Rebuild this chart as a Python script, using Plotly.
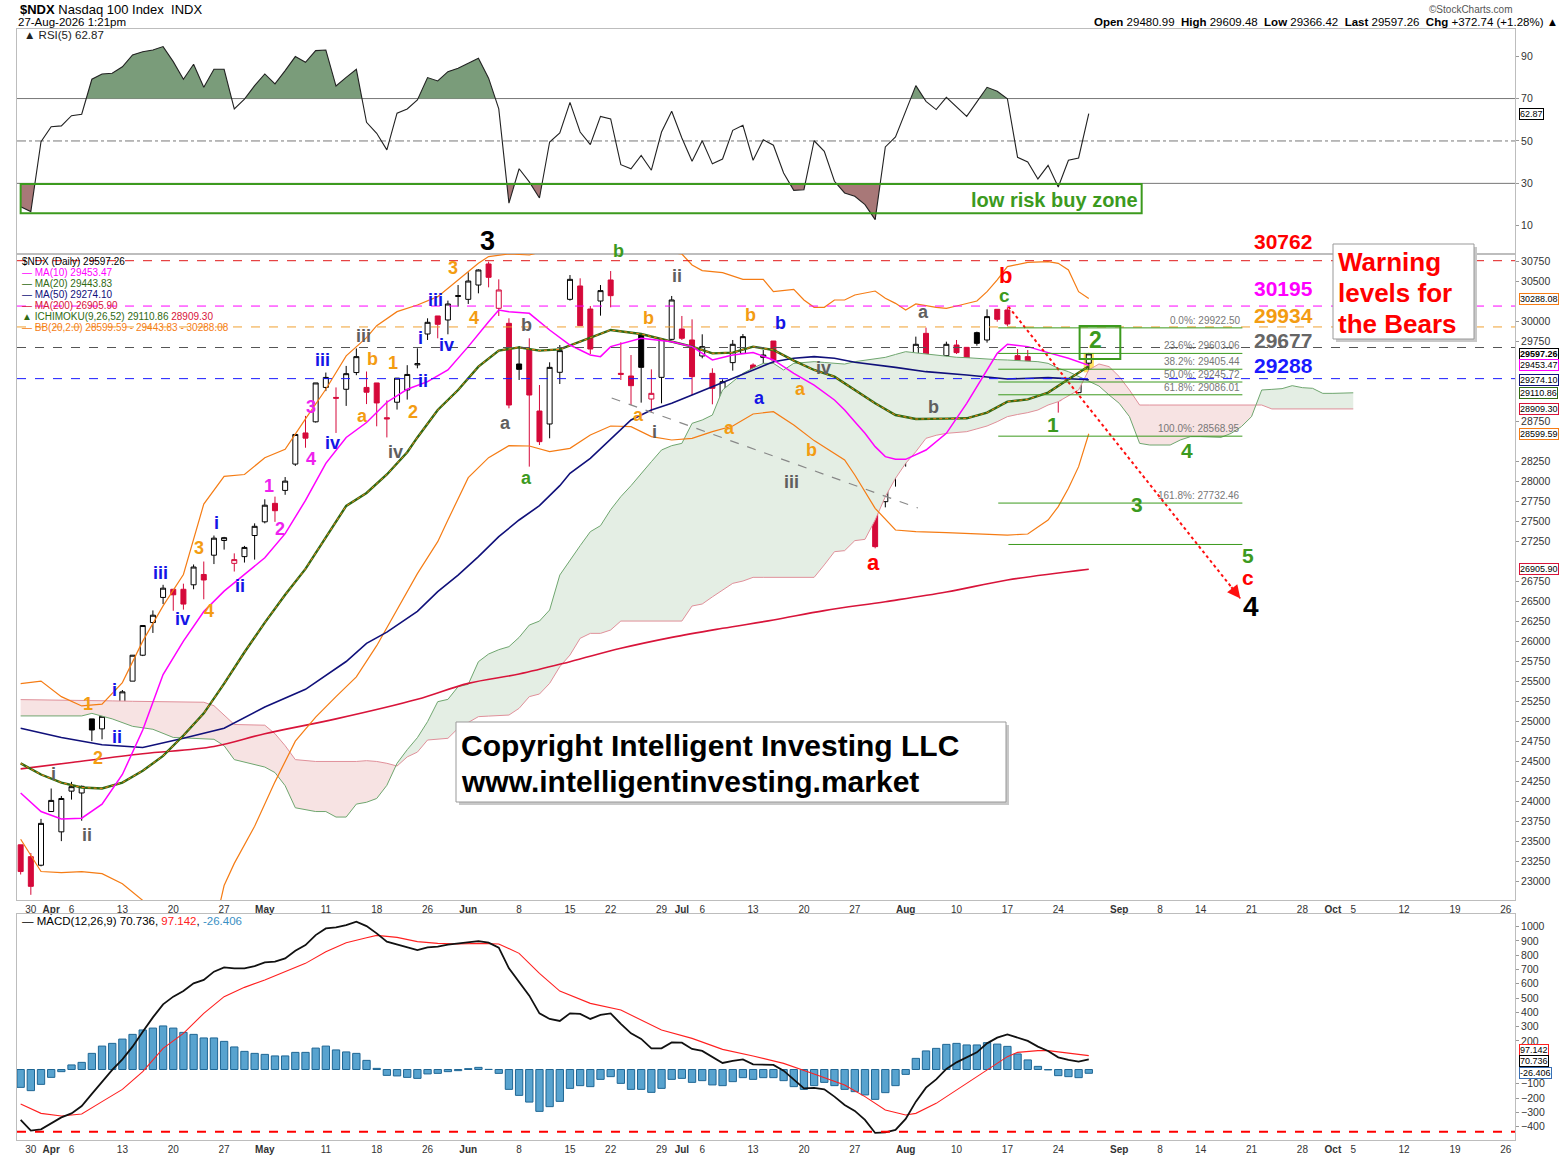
import pandas as pd
import plotly.graph_objects as go

# ---------------- trading calendar (x positions are trading-day numbers) ----------------
HOLIDAYS = ["2026-04-03", "2026-05-25", "2026-06-19", "2026-07-03", "2026-09-07"]
DAYS = [d for d in pd.bdate_range("2026-03-27", "2026-10-30")
        if d.strftime("%Y-%m-%d") not in HOLIDAYS]
POS = {d.strftime("%m-%d"): i for i, d in enumerate(DAYS)}
candle_dates = [d.strftime("%m-%d") for d in DAYS if d <= pd.Timestamp("2026-08-27")]

# ---------------- daily candles, 27-Mar .. 27-Aug ----------------
O = [23461, 23313, 23206, 23877, 23623, 24132, 24109, 25035, 24910, 25165,
     25049, 25507, 25831, 26239, 26553, 26655, 26655, 26711, 26840, 27081,
     27265, 26979, 27063, 27327, 27498, 27729, 27891, 28220, 28609, 28748,
     29178, 29053, 29155, 29364, 29178, 29234, 28799, 28993, 29146, 29460,
     29846, 30071, 30021, 30315, 30279, 30458, 30721, 30167, 29979, 29471,
     29654, 28883, 28721, 29367, 30279, 30446, 30158, 30258, 30521, 29354,
     29321, 29833, 29033, 29304, 29779, 29908, 29771, 29571, 29354, 29021,
     29488, 29604, 29458, 29554, 29758, 29313, 28458, 28867, 29063, 28946,
     28542, 28354, 28404, 27804, 27779, 27750, 28446, 28271, 29104, 29854,
     29221, 29575, 29708, 29679, 29863, 29771, 30154, 30146, 29575, 29563,
     29279, 29354, 29092, 29250, 29113, 29480.99]
H = [23461, 23359, 23785, 24165, 24072, 24248, 24202, 25035, 25067, 25229,
     25396, 25831, 26202, 26391, 26711, 26655, 26725, 26965, 27002, 27327,
     27310, 27104, 27197, 27479, 27780, 27813, 28058, 28590, 28822, 29234,
     29364, 29178, 29447, 29665, 29377, 29234, 29016, 29294, 29456, 29667,
     30042, 30071, 30263, 30458, 30617, 30654, 30750, 30529, 30042, 29696,
     29792, 29208, 29492, 29708, 30583, 30542, 30196, 30458, 30633, 29742,
     29583, 29842, 29404, 29792, 30321, 30071, 30029, 29842, 29417, 29279,
     29771, 29846, 29479, 29646, 29758, 29313, 28854, 29000, 29179, 29167,
     28708, 28446, 28417, 27925, 27946, 28167, 28604, 28833, 29813, 29925,
     29554, 29750, 29771, 29679, 29875, 30154, 30154, 30179, 29658, 29646,
     29367, 29375, 29146, 29321, 29283, 29609.48]
L = [23090, 22836, 23192, 23877, 23507, 24026, 23762, 24757, 24780, 25044,
     24998, 25507, 25820, 26109, 26470, 26387, 26401, 26655, 26530, 26970,
     27151, 26877, 26989, 27026, 27479, 27498, 27836, 28197, 28424, 28739,
     29132, 28609, 28947, 29331, 28970, 28692, 28553, 28901, 29026, 29417,
     29771, 29792, 29842, 30188, 30221, 30354, 30429, 30071, 28917, 29271,
     28188, 28458, 28542, 29221, 30263, 29950, 29596, 30075, 30179, 29271,
     28958, 28988, 28875, 28979, 29771, 29771, 29083, 29542, 28967, 28804,
     29388, 29596, 29179, 29354, 29188, 28875, 28229, 28571, 28875, 28929,
     28271, 28042, 27779, 27446, 27167, 27679, 27938, 28188, 29104, 29446,
     29113, 29438, 29596, 29417, 29700, 29738, 30000, 29946, 29417, 29292,
     29104, 29113, 28863, 29071, 29104, 29366.42]
C = [23127, 22942, 23729, 24016, 24040, 24188, 24192, 24896, 25067, 25104,
     25373, 25831, 26202, 26331, 26669, 26586, 26470, 26933, 26771, 27294,
     27300, 27026, 27178, 27442, 27706, 27637, 28007, 28590, 28544, 29234,
     29303, 29044, 29350, 29563, 29118, 28984, 28785, 29294, 29340, 29475,
     29992, 29967, 30221, 30325, 30508, 30646, 30554, 30396, 28958, 29404,
     29083, 28500, 29429, 29638, 30529, 29950, 29658, 30388, 30325, 29342,
     29200, 29429, 29104, 29779, 30271, 29792, 29313, 29688, 29167, 29250,
     29717, 29813, 29263, 29583, 29521, 29013, 28575, 28592, 29138, 28988,
     28438, 28113, 28029, 27750, 27188, 28104, 28279, 28771, 29717, 29467,
     29363, 29717, 29613, 29521, 29729, 30063, 30029, 29971, 29467, 29417,
     29196, 29313, 29013, 29215, 29224.52, 29597.26]

# ---------------- overlays ----------------
ma10_d = ["03-27", "03-31", "04-02", "04-07", "04-09", "04-13", "04-15", "04-17", "04-21", "04-23",
          "04-27", "04-29", "05-01", "05-05", "05-07", "05-11", "05-13", "05-15", "05-19", "05-21",
          "05-26", "05-28", "06-01", "06-03", "06-04", "06-05", "06-09", "06-11", "06-15", "06-17",
          "06-18", "06-22", "06-25", "06-30", "07-02", "07-07", "07-09", "07-13", "07-15", "07-17",
          "07-21", "07-23", "07-24", "07-27", "07-28", "07-29", "07-30", "07-31", "08-03", "08-05",
          "08-07", "08-11", "08-13", "08-14", "08-17", "08-19", "08-21", "08-25", "08-27"]
ma10 = [24109, 23877, 23785, 23794, 23970, 24340, 24896, 25590, 26007, 26377,
        26632, 26840, 27049, 27350, 27766, 28229, 28553, 28739, 28993, 29155,
        29250, 29396, 29688, 30000, 30146, 30125, 30104, 29896, 29708, 29583,
        29563, 29688, 29792, 29750, 29688, 29521, 29583, 29613, 29521, 29354,
        29208, 29021, 28896, 28750, 28604, 28438, 28313, 28279, 28279, 28396,
        28604, 28979, 29396, 29604, 29717, 29688, 29613, 29542, 29453.47]

ma20_d = ["03-27", "03-31", "04-02", "04-07", "04-09", "04-13", "04-15", "04-17", "04-21", "04-23",
          "04-27", "04-29", "05-01", "05-05", "05-07", "05-11", "05-13", "05-15", "05-19", "05-21",
          "05-22", "05-27", "05-29", "06-02", "06-04", "06-08", "06-10", "06-12", "06-16", "06-22",
          "06-25", "06-30", "07-02", "07-07", "07-09", "07-13", "07-15", "07-17", "07-21", "07-23",
          "07-24", "07-27", "07-29", "07-31", "08-04", "08-07", "08-11", "08-13", "08-17", "08-19",
          "08-21", "08-25", "08-27"]
ma20 = [24479, 24340, 24239, 24178, 24165, 24239, 24387, 24572, 24827, 25104,
        25475, 25868, 26238, 26586, 26910, 27303, 27697, 27859, 28090, 28368,
        28553, 28896, 29146, 29438, 29638, 29679, 29638, 29654, 29750, 29896,
        29846, 29750, 29688, 29604, 29613, 29688, 29646, 29513, 29396, 29313,
        29229, 29146, 28979, 28833, 28783, 28788, 28792, 28863, 29000, 29029,
        29113, 29280, 29443.83]

ma50_d = ["03-27", "04-02", "04-09", "04-15", "04-21", "04-27", "05-01", "05-07", "05-13", "05-15",
          "05-19", "05-22", "05-27", "05-29", "06-02", "06-04", "06-08", "06-10", "06-12", "06-15",
          "06-17", "06-22", "06-24", "06-26", "06-30", "07-02", "07-07", "07-09", "07-13", "07-15",
          "07-17", "07-21", "07-23", "07-27", "07-31", "08-05", "08-11", "08-17", "08-21", "08-27"]
ma50 = [24919, 24803, 24711, 24678, 24794, 24919, 25183, 25405, 25752, 25979,
        26120, 26380, 26625, 26833, 27063, 27313, 27521, 27700, 27950, 28104,
        28292, 28529, 28771, 28896, 28979, 29083, 29188, 29292, 29404, 29500,
        29542, 29563, 29542, 29492, 29429, 29375, 29333, 29283, 29300, 29274.10]

ma200_d = ["03-27", "04-06", "04-15", "04-24", "05-01", "05-12", "05-22", "06-01", "06-08", "06-15",
           "06-23", "06-30", "07-08", "07-15", "07-22", "07-30", "08-07", "08-17", "08-27"]
ma200 = [24410, 24490, 24600, 24690, 24850, 25035, 25280, 25479, 25596, 25750,
         25917, 26054, 26167, 26271, 26388, 26500, 26620, 26771, 26905.90]

bbu_d = ["03-27", "03-31", "04-02", "04-07", "04-09", "04-13", "04-15", "04-17", "04-21", "04-23",
         "04-27", "04-29", "05-01", "05-05", "05-07", "05-11", "05-13", "05-15", "05-18", "05-20",
         "05-22", "05-27", "05-29", "06-02", "06-03", "06-05", "06-09", "06-11", "06-15", "06-18",
         "06-23", "06-26", "07-01", "07-02", "07-06", "07-08", "07-10", "07-14", "07-15", "07-17",
         "07-20", "07-21", "07-22", "07-23", "07-24", "07-27", "07-29", "07-30", "07-31", "08-03",
         "08-04", "08-06", "08-07", "08-10", "08-12", "08-13", "08-14", "08-17", "08-19", "08-21",
         "08-24", "08-25", "08-26", "08-27"]
bbu = [25475, 25507, 25313, 25197, 25220, 25489, 26007, 26447, 26840, 27720,
       28067, 28090, 28299, 28405, 28785, 29155, 29572, 29800, 29950, 30125,
       30208, 30313, 30521, 30729, 30813, 30846, 30833, 30900, 30950, 31000,
       30950, 30900, 30846, 30708, 30638, 30613, 30529, 30529, 30375, 30404,
       30271, 30179, 30179, 30271, 30271, 30333, 30383, 30292, 30229, 30146,
       30221, 30179, 30167, 30196, 30258, 30375, 30521, 30688, 30742, 30750,
       30729, 30646, 30375, 30288.08]

bbl_d = ["03-27", "03-30", "03-31", "04-02", "04-07", "04-09", "04-13", "04-15", "04-16", "04-17",
         "04-20", "04-21", "04-22", "04-23", "04-24", "04-27", "04-28", "04-30", "05-04", "05-06",
         "05-08", "05-12", "05-14", "05-18", "05-20", "05-22", "05-26", "05-27", "05-28", "06-01",
         "06-03", "06-05", "06-09", "06-11", "06-15", "06-17", "06-22", "06-24", "06-26", "06-30",
         "07-02", "07-07", "07-09", "07-13", "07-15", "07-17", "07-21", "07-23", "07-24", "07-27",
         "07-29", "07-31", "08-04", "08-07", "08-12", "08-17", "08-19", "08-21", "08-24", "08-25",
         "08-26", "08-27"]
bbl = [23530, 23322, 23127, 23114, 23127, 23100, 22975, 22766, 22550, 22300,
       22100, 21950, 21900, 22000, 22400, 22952, 23229, 23692, 24248, 24757,
       25058, 25313, 25560, 25950, 26400, 26850, 27050, 27250, 27521, 28050,
       28300, 28450, 28446, 28375, 28417, 28583, 28696, 28688, 28563, 28521,
       28542, 28625, 28696, 28846, 28875, 28708, 28513, 28346, 28271, 28083,
       27667, 27396, 27375, 27363, 27346, 27333, 27346, 27521, 27688, 27917,
       28188, 28599.59]

# Ichimoku cloud (already shifted 26 sessions ahead)
ich_d = ["03-27", "04-07", "04-08", "04-10", "04-14", "04-16", "04-20", "04-23", "04-24", "04-27",
         "04-28", "05-01", "05-04", "05-05", "05-06", "05-08", "05-11", "05-12", "05-13", "05-14",
         "05-15", "05-18", "05-19", "05-20", "05-21", "05-22", "05-26", "05-27", "05-28", "05-29",
         "06-01", "06-02", "06-03", "06-04", "06-05", "06-08", "06-09", "06-10", "06-11", "06-12",
         "06-15", "06-16", "06-17", "06-18", "06-22", "06-23", "06-24", "06-25", "06-26", "06-29",
         "06-30", "07-01", "07-02", "07-06", "07-07", "07-08", "07-09", "07-10", "07-13", "07-14",
         "07-15", "07-16", "07-17", "07-20", "07-21", "07-22", "07-23", "07-24", "07-27", "07-28",
         "07-29", "07-30", "07-31", "08-03", "08-04", "08-05", "08-06", "08-07", "08-10", "08-11",
         "08-12", "08-13", "08-14", "08-17", "08-18", "08-19", "08-20", "08-21", "08-24", "08-25",
         "08-26", "08-27", "08-28", "08-31", "09-01", "09-02", "09-03", "09-04", "09-08", "09-09",
         "09-10", "09-11", "09-14", "09-15", "09-16", "09-17", "09-18", "09-21", "09-22", "09-23",
         "09-24", "09-25", "09-28", "09-29", "09-30", "10-01", "10-02", "10-05"]
span_a = [25072, 25072, 25104, 25035, 24942, 24905, 24803, 24790, 24780, 24700,
          24526, 24433, 24364, 24200, 23924, 23877, 23877, 23808, 23808, 23970,
          23993, 24040, 24205, 24480, 24650, 24800, 25000, 25250, 25279, 25438,
          25467, 25750, 25846, 25900, 25938, 26054, 26208, 26258, 26396, 26833,
          27021, 27200, 27375, 27450, 27650, 27813, 27950, 28104, 28250, 28396,
          28450, 28479, 28729, 28771, 28833, 29146, 29250, 29354, 29420, 29479,
          29479, 29396, 29479, 29490, 29500, 29490, 29479, 29470, 29500, 29520,
          29540, 29554, 29590, 29625, 29610, 29596, 29580, 29563, 29555, 29550,
          29540, 29529, 29525, 29521, 29517, 29513, 29500, 29479, 29417, 29375,
          29313, 29250, 29196, 29083, 28979, 28813, 28479, 28458, 28458, 28458,
          28521, 28563, 28563, 28563, 28554, 28604, 28688, 28813, 29146, 29154,
          29163, 29200, 29175, 29167, 29104, 29104, 29104, 29110.86]
span_b = [25276, 25270, 25265, 25260, 25255, 25250, 25248, 25243, 25200, 25081,
          24965, 24956, 24850, 24700, 24526, 24503, 24503, 24503, 24503, 24503,
          24513, 24503, 24480, 24446, 24560, 24620, 24771, 24780, 24792, 24917,
          24990, 25063, 25070, 25075, 25083, 25167, 25313, 25346, 25479, 25688,
          25833, 26042, 26104, 26104, 26146, 26258, 26258, 26258, 26258, 26258,
          26258, 26258, 26446, 26471, 26560, 26646, 26729, 26758, 26804, 26804,
          26804, 26804, 26804, 26804, 26804, 26960, 27125, 27138, 27263, 27279,
          27521, 27813, 28042, 28229, 28375, 28542, 28580, 28604, 28615, 28625,
          28660, 28696, 28750, 28813, 28840, 28863, 28896, 28958, 29000, 29071,
          29146, 29396, 29471, 29438, 29313, 29146, 28958, 28958, 28958, 28958,
          28958, 28958, 28958, 28958, 28958, 28958, 28958, 28958, 28958, 28909,
          28909, 28909, 28909, 28909, 28909, 28909, 28909, 28909.30]

# ---------------- RSI(5), daily ----------------
rsi = [19.0, 16.7, 49.7, 56.7, 57.1, 61.9, 62.6, 79.1, 81.6, 81.9,
       85.0, 90.6, 92.1, 92.9, 94.5, 87.4, 79.1, 86.2, 75.3, 83.8,
       83.8, 65.1, 69.7, 76.1, 81.6, 76.9, 83.2, 89.8, 87.1, 92.6,
       92.9, 75.9, 80.0, 83.8, 58.8, 53.6, 45.8, 63.1, 65.1, 69.3,
       79.9, 78.3, 82.7, 84.3, 86.6, 89.0, 79.6, 65.1, 20.7, 36.9,
       30.7, 23.1, 49.5, 53.8, 68.2, 54.2, 48.3, 61.6, 60.4, 38.8,
       36.9, 43.2, 36.2, 54.2, 64.0, 51.4, 40.4, 50.1, 39.2, 41.5,
       55.0, 57.4, 40.9, 50.6, 48.0, 34.9, 26.7, 27.0, 50.1, 45.1,
       31.0, 25.5, 23.9, 20.0, 12.9, 47.2, 51.9, 64.0, 76.1, 68.7,
       64.8, 70.6, 65.9, 61.6, 68.4, 75.3, 73.4, 69.9, 42.3, 40.1,
       32.1, 38.5, 28.3, 40.9, 42.0, 62.87]

# ---------------- MACD(12,26,9), daily ----------------
macd = [-353, -428, -419, -377, -335, -307, -256, -171, -85, -3,
        71, 160, 265, 365, 456, 510, 550, 603, 627, 685,
        715, 708, 708, 724, 750, 755, 778, 832, 871, 941,
        988, 995, 1011, 1035, 1004, 953, 895, 876, 853, 836,
        855, 860, 874, 883, 895, 899, 888, 853, 708, 615,
        517, 393, 354, 340, 393, 389, 354, 382, 393, 319,
        253, 214, 148, 148, 190, 188, 144, 130, 90, 46,
        60, 71, 36, 36, 32, -8, -73, -132, -129, -139,
        -190, -248, -290, -353, -444, -440, -423, -346, -225, -127,
        -69, 4, 50, 83, 120, 183, 223, 246, 225, 200,
        160, 130, 85, 67, 55, 70.736]
hist = [-125, -148, -104, -55, -15, 32, 50, 113, 164, 183,
        213, 246, 277, 290, 305, 290, 260, 246, 221, 221,
        197, 158, 127, 113, 106, 95, 95, 120, 120, 150,
        164, 137, 123, 113, 64, 8, -41, -45, -55, -62,
        -31, -27, -15, -8, 6, 15, 1, -27, -139, -181,
        -228, -293, -260, -223, -132, -113, -120, -69, -50, -97,
        -139, -139, -160, -132, -69, -62, -90, -78, -108, -113,
        -85, -57, -69, -57, -57, -78, -120, -139, -113, -90,
        -113, -139, -155, -178, -209, -162, -113, -34, 78, 130,
        148, 176, 183, 172, 172, 188, 178, 162, 109, 67,
        22, -3, -43, -50, -57, -26.406]
sig_d = ["03-27", "03-31", "04-02", "04-07", "04-09", "04-13", "04-15", "04-17", "04-21", "04-23",
         "04-27", "04-29", "05-01", "05-05", "05-07", "05-11", "05-13", "05-15", "05-18", "05-20",
         "05-22", "05-27", "05-29", "06-02", "06-04", "06-08", "06-10", "06-12", "06-17", "06-23",
         "06-29", "07-02", "07-08", "07-13", "07-16", "07-21", "07-24", "07-28", "07-30", "08-03",
         "08-04", "08-06", "08-10", "08-12", "08-14", "08-17", "08-18", "08-20", "08-21", "08-25",
         "08-27"]
sig = [-241, -307, -325, -311, -225, -139, -15, 148, 253, 393,
       510, 575, 627, 685, 743, 825, 888, 923, 939, 925,
       895, 883, 879, 883, 879, 813, 673, 549, 463, 416,
       277, 218, 141, 95, 43, -31, -108, -190, -283, -318,
       -307, -237, -143, -50, 43, 90, 120, 132, 132, 113,
       97.142]

# ---------------- drawn levels ----------------
warn_levels = [30762, 30195, 29934, 29677, 29288]
warn_label_y = [30996, 30409, 30071, 29759, 29446]
fib_names = ["0.0%", "23.6%", "38.2%", "50.0%", "61.8%", "100.0%", "161.8%"]
fib_levels = [29922.50, 29603.06, 29405.44, 29245.72, 29086.01, 28568.95, 27732.46]
fib_extra = 27215
macd_low_line = -435

tick_dates = ["03-30", "04-01", "04-06", "04-13", "04-20", "04-27", "05-01", "05-11", "05-18", "05-26",
              "06-01", "06-08", "06-15", "06-22", "06-29", "07-01", "07-06", "07-13", "07-20", "07-27",
              "08-03", "08-10", "08-17", "08-24", "09-01", "09-08", "09-14", "09-21", "09-28", "10-01",
              "10-05", "10-12", "10-19", "10-26"]
tick_text = ["30", "Apr", "6", "13", "20", "27", "May", "11", "18", "26",
             "Jun", "8", "15", "22", "29", "Jul", "6", "13", "20", "27",
             "Aug", "10", "17", "24", "Sep", "8", "14", "21", "28", "Oct",
             "5", "12", "19", "26"]

FONT = "Liberation Sans, Arial, sans-serif"
OR, BL, MG, GY, GR, RD, BK = "#f39c12", "#1414e6", "#ee22ee", "#5f5f5f", "#3c9a1e", "#ff0000", "#000000"

# Elliott-wave labels: text, trading-day position, price position, colour, size
waves = [
    ("i", 3.18, 24346, GY, 18), ("ii", 6.52, 23584, GY, 18), ("1", 6.62, 25221, OR, 18),
    ("2", 7.6, 24546, OR, 18), ("i", 9.27, 25396, BL, 18), ("ii", 9.47, 24809, BL, 18),
    ("iii", 13.7, 26859, BL, 18), ("iv", 15.86, 26284, BL, 18), ("3", 17.53, 27171, OR, 18),
    ("4", 18.52, 26384, OR, 18), ("i", 19.3, 27484, BL, 18), ("ii", 21.56, 26696, BL, 18),
    ("1", 24.4, 27946, MG, 18), ("2", 25.5, 27409, MG, 18), ("3", 28.5, 28934, MG, 18),
    ("4", 28.5, 28284, MG, 18), ("iii", 29.7, 29521, BL, 18), ("iv", 30.7, 28484, BL, 18),
    ("iii", 33.75, 29821, GY, 18), ("a", 33.65, 28821, OR, 18), ("b", 34.6, 29534, OR, 18),
    ("1", 36.6, 29484, OR, 18), ("2", 38.6, 28871, OR, 18), ("iv", 36.8, 28371, GY, 18),
    ("i", 39.26, 29796, BL, 18), ("ii", 39.56, 29259, BL, 18), ("iii", 40.74, 30271, BL, 18),
    ("iv", 41.82, 29709, BL, 18), ("3", 42.5, 30671, OR, 18), ("4", 44.6, 30046, OR, 18),
    ("3", 45.85, 31009, BK, 27), ("b", 49.7, 29959, GY, 18), ("a", 47.62, 28734, GY, 18),
    ("a", 49.7, 28046, GR, 18), ("b", 58.73, 30884, GR, 18), ("ii", 64.53, 30571, GY, 18),
    ("b", 61.68, 30046, OR, 18), ("a", 60.7, 28834, OR, 18), ("i", 62.3, 28621, GY, 18),
    ("b", 71.7, 30084, OR, 18), ("b", 74.66, 29984, BL, 18), ("a", 69.65, 28671, OR, 18),
    ("a", 72.6, 29046, BL, 18), ("iv", 78.9, 29421, GY, 18), ("a", 76.63, 29159, OR, 18),
    ("b", 77.7, 28396, OR, 18), ("iii", 75.74, 27996, GY, 18), ("a", 83.8, 26984, RD, 22),
    ("a", 88.72, 30121, GY, 18), ("b", 89.7, 28934, GY, 18), ("b", 96.8, 30580, RD, 22),
    ("c", 96.7, 30330, GR, 19), ("1", 101.5, 28709, GR, 21), ("2", 105.7, 29771, GR, 23),
    ("3", 109.7, 27709, GR, 21), ("4", 114.7, 28390, GR, 21), ("5", 120.7, 27071, GR, 21),
    ("c", 120.7, 26796, RD, 21), ("4", 120.9, 26434, BK, 28),
]

XR = [-0.36, 146.9]
Y2R = [22771, 30846]
Y2DOM = [0.2160, 0.7975]


def xs(dates):
    return [POS[d] for d in dates]


def band_polys(x, up, lo):
    """Split the band between two lines into pieces at every crossing."""
    out = []
    px, pu, pl = [x[0]], [up[0]], [lo[0]]
    sign = up[0] >= lo[0]
    for i in range(1, len(x)):
        s = up[i] >= lo[i]
        if s != sign:
            d0, d1 = up[i - 1] - lo[i - 1], up[i] - lo[i]
            t = d0 / (d0 - d1)
            xc = x[i - 1] + t * (x[i] - x[i - 1])
            yc = lo[i - 1] + t * (lo[i] - lo[i - 1])
            px.append(xc); pu.append(yc); pl.append(yc)
            out.append((px, pu, pl, sign))
            px, pu, pl = [xc], [yc], [yc]
            sign = s
        px.append(x[i]); pu.append(up[i]); pl.append(lo[i])
    out.append((px, pu, pl, sign))
    return out


def PX(p):
    return (p - 17) / 1498


def PY(p):
    return (1140 - p) / 1111


def price_ref(v):
    # labels above the price range would be hidden on y2, so place those on paper
    if v <= Y2R[1]:
        return v, "y2"
    return Y2DOM[0] + (v - Y2R[0]) / (Y2R[1] - Y2R[0]) * (Y2DOM[1] - Y2DOM[0]), "paper"


cx = xs(candle_dates)
fig = go.Figure()

# ---------------- RSI panel ----------------
for px_, pu, pl, s in band_polys(cx, rsi, [70] * len(rsi)):
    if s:
        fig.add_trace(go.Scatter(x=px_ + px_[::-1], y=pu + pl[::-1], fill="toself", mode="lines",
                                 line=dict(width=0), fillcolor="#7a9c7a", xaxis="x", yaxis="y"))
for px_, pu, pl, s in band_polys(cx, [30] * len(rsi), rsi):
    if s:
        fig.add_trace(go.Scatter(x=px_ + px_[::-1], y=pu + pl[::-1], fill="toself", mode="lines",
                                 line=dict(width=0), fillcolor="#a87878", xaxis="x", yaxis="y"))
fig.add_trace(go.Scatter(x=cx, y=rsi, mode="lines", line=dict(color="#222", width=1.1),
                         xaxis="x", yaxis="y"))

# ---------------- price panel ----------------
ix = xs(ich_d)
for px_, pu, pl, s in band_polys(ix, span_a, span_b):
    fig.add_trace(go.Scatter(x=px_ + px_[::-1], y=pu + pl[::-1], fill="toself", mode="lines",
                             line=dict(width=0), fillcolor="#e4eee4" if s else "#f7e3e3",
                             xaxis="x2", yaxis="y2"))
fig.add_trace(go.Scatter(x=ix, y=span_b, mode="lines", line=dict(color="#e0909a", width=1),
                         xaxis="x2", yaxis="y2"))
fig.add_trace(go.Scatter(x=ix, y=span_a, mode="lines", line=dict(color="#6fa66f", width=1),
                         xaxis="x2", yaxis="y2"))

fig.add_trace(go.Scatter(x=xs(ma200_d), y=ma200, mode="lines", line=dict(color="#d8143a", width=1.6),
                         line_shape="spline", xaxis="x2", yaxis="y2"))
for d, v in ((bbu_d, bbu), (bbl_d, bbl)):
    fig.add_trace(go.Scatter(x=xs(d), y=v, mode="lines", line=dict(color="#f57c14", width=1.2),
                             xaxis="x2", yaxis="y2"))
fig.add_trace(go.Scatter(x=xs(ma50_d), y=ma50, mode="lines", line=dict(color="#10107a", width=1.6),
                         xaxis="x2", yaxis="y2"))
fig.add_trace(go.Scatter(x=xs(ma20_d), y=ma20, mode="lines", line=dict(color="#2f6a12", width=2.4),
                         xaxis="x2", yaxis="y2"))
fig.add_trace(go.Scatter(x=xs(ma20_d), y=ma20, mode="lines",
                         line=dict(color="#f57c14", width=1, dash="dot"), xaxis="x2", yaxis="y2"))
fig.add_trace(go.Scatter(x=xs(ma10_d), y=ma10, mode="lines", line=dict(color="#ff00ff", width=1.5),
                         xaxis="x2", yaxis="y2"))

# grey dashed channel line and red dotted projection
fig.add_trace(go.Scatter(x=[58.1, 88.2], y=[29046, 27671], mode="lines",
                         line=dict(color="#888", width=1.2, dash="dash"), xaxis="x2", yaxis="y2"))
fig.add_trace(go.Scatter(x=[97.1, 119.9], y=[30188, 26541], mode="lines",
                         line=dict(color="#ff1010", width=2, dash="dot"), xaxis="x2", yaxis="y2"))

# candles: black when close >= prior close, red otherwise; hollow when close > open
prev = [None] + C[:-1]
up_day = [p is not None and c >= p for c, p in zip(C, prev)]
for flag, col in ((True, "#000000"), (False, "#d5093a")):
    pick = lambda arr: [v if u == flag else None for v, u in zip(arr, up_day)]
    fig.add_trace(go.Candlestick(
        x=cx, open=pick(O), high=pick(H), low=pick(L), close=pick(C),
        increasing=dict(line=dict(color=col, width=1), fillcolor="white"),
        decreasing=dict(line=dict(color=col, width=1), fillcolor=col),
        whiskerwidth=0, xaxis="x2", yaxis="y2"))

# ---------------- MACD panel ----------------
fig.add_trace(go.Bar(x=cx, y=hist, marker=dict(color="#58a3cf", line=dict(color="#1f6694", width=1)),
                     width=0.72, xaxis="x3", yaxis="y3"))
fig.add_trace(go.Scatter(x=xs(sig_d), y=sig, mode="lines", line=dict(color="#ff2020", width=1.1),
                         xaxis="x3", yaxis="y3"))
fig.add_trace(go.Scatter(x=cx, y=macd, mode="lines", line=dict(color="#111", width=1.8),
                         xaxis="x3", yaxis="y3"))

# ---------------- shapes ----------------
shapes = []
for lvl, dash in ((70, "solid"), (30, "solid"), (50, "dashdot")):
    shapes.append(dict(type="line", xref="paper", x0=0, x1=1, yref="y", y0=lvl, y1=lvl,
                       line=dict(color="#777", width=1, dash=dash), layer="below"))
shapes.append(dict(type="rect", xref="x", x0=0, x1=110.2, yref="y", y0=15.9, y1=29.7,
                   line=dict(color="#3c9a1e", width=2)))
warn_cols = ["#e01818", "#ff00ff", "#f0a030", "#555555", "#1a1aff"]
for lvl, col in zip(warn_levels, warn_cols):
    shapes.append(dict(type="line", xref="paper", x0=0, x1=1, yref="y2", y0=lvl, y1=lvl,
                       line=dict(color=col, width=1, dash="dash")))
for lvl in fib_levels:
    shapes.append(dict(type="line", xref="x2", x0=96.1, x1=120.1, yref="y2", y0=lvl, y1=lvl,
                       line=dict(color="#3c9a1e", width=1)))
shapes.append(dict(type="line", xref="x2", x0=97.1, x1=120.1, yref="y2", y0=fib_extra, y1=fib_extra,
                   line=dict(color="#3c9a1e", width=1)))
shapes.append(dict(type="rect", xref="x2", x0=104.1, x1=108.1, yref="y2", y0=29534, y1=29946,
                   line=dict(color="#3c9a1e", width=2)))
shapes.append(dict(type="rect", xref="x2", x0=cx[-1] - 0.5, x1=cx[-1] + 0.5, yref="y2",
                   y0=L[-1], y1=H[-1], line=dict(width=0), fillcolor="rgba(255,215,40,0.75)",
                   layer="below"))
shapes.append(dict(type="line", xref="paper", x0=0, x1=1, yref="y3", y0=macd_low_line, y1=macd_low_line,
                   line=dict(color="#ff0000", width=2, dash="dash")))
# text boxes with drop shadow
for (x0, y0, x1, y1) in ((1333, 244, 1474, 339), (456, 722, 1006, 802)):
    shapes.append(dict(type="rect", xref="paper", yref="paper", x0=PX(x0 + 3), x1=PX(x1 + 3),
                       y0=PY(y1 + 3), y1=PY(y0 + 3), line=dict(width=0), fillcolor="#c8c8c8"))
    shapes.append(dict(type="rect", xref="paper", yref="paper", x0=PX(x0), x1=PX(x1),
                       y0=PY(y1), y1=PY(y0), line=dict(color="#999", width=1), fillcolor="white"))

# ---------------- annotations ----------------
ann = []


def text(x, y, t, xref="paper", yref="paper", size=10, color="#000", xanchor="left",
         yanchor="middle", family=FONT, **kw):
    ann.append(dict(x=x, y=y, xref=xref, yref=yref, text=t, showarrow=False, xanchor=xanchor,
                    yanchor=yanchor, font=dict(size=size, color=color, family=family), **kw))


for t, x, y, col, sz in waves:
    yy, yr = price_ref(y)
    text(x, yy, "<b>%s</b>" % t, "x2", yr, size=sz, color=col, xanchor="center")

label_cols = ["#ff0000", "#ff00ff", "#f39c12", "#666666", "#1a1aff"]
for lvl, ly, col in zip(warn_levels, warn_label_y, label_cols):
    yy, yr = price_ref(ly)
    text(124.1, yy, "<b>%d</b>" % lvl, "x2", yr, size=21, color=col, xanchor="center")

for name, lvl in zip(fib_names, fib_levels):
    text(120.1, lvl, "%s: %.2f" % (name, lvl), "x2", "y2", size=10, color="#777",
         xanchor="right", yanchor="bottom", yshift=0)

for i, line in enumerate(["Warning", "levels for", "the Bears"]):
    text(PX(1336), PY(262 + 31 * i), "<b>%s</b>" % line, size=26, color="#ff0000")
text(PX(459), PY(745), "<b>Copyright Intelligent Investing LLC</b>", size=30)
text(PX(459), PY(781), "<b>www.intelligentinvesting.market</b>", size=30)
text(101.6, 22.3, "<b>low risk buy zone</b>", "x", "y", size=20, color="#3c9a1e", xanchor="center")

# arrow head of the projection
ann.append(dict(x=119.9, y=26541, ax=118.9, ay=26700, xref="x2", yref="y2", axref="x2", ayref="y2",
                text="", showarrow=True, arrowhead=2, arrowsize=1.3, arrowwidth=2, arrowcolor="#ff1010"))

# header
chg = C[-1] - C[-2]
text(PX(18), PY(9), "<b>$NDX</b> Nasdaq 100 Index  INDX", size=13)
text(PX(16), PY(22), "27-Aug-2026 1:21pm", size=11.5)
text(PX(1515), PY(9), "\u00a9StockCharts.com", size=10, color="#555", xanchor="right")
text(PX(1560), PY(22),
     "<b>Open</b> %.2f  <b>High</b> %.2f  <b>Low</b> %.2f  <b>Last</b> %.2f  <b>Chg</b> %+.2f (%+.2f%%) \u25b2"
     % (O[-1], H[-1], L[-1], C[-1], chg, chg / C[-2] * 100), size=11.5, xanchor="right")

# panel legends
text(PX(22), PY(35), "\u25b2 RSI(5) %.2f" % rsi[-1], size=11.5, color="#222")
legend = [
    ("$NDX (Daily) %.2f" % C[-1], "#000"),
    ("\u2014 MA(10) %.2f" % ma10[-1], "#ff00ff"),
    ("\u2014 MA(20) %.2f" % ma20[-1], "#2f6a12"),
    ("\u2014 MA(50) %.2f" % ma50[-1], "#10107a"),
    ("\u2014 MA(200) %.2f" % ma200[-1], "#d8143a"),
    ("\u25b2 ICHIMOKU(9,26,52) %.2f <span style='color:#d8143a'>%.2f</span>" % (span_a[-1], span_b[-1]),
     "#2f6a12"),
    ("\u2014 BB(20,2.0) %.2f - %.2f - %.2f" % (bbl[-1], ma20[-1], bbu[-1]), "#f57c14"),
]
for i, (t, col) in enumerate(legend):
    text(PX(20), PY(261 + 11 * i), t, size=10, color=col)
text(PX(20), PY(921),
     "\u2014 MACD(12,26,9) %.3f, <span style='color:#ff2020'>%.3f</span>, "
     "<span style='color:#3a8fc4'>%.3f</span>" % (macd[-1], sig[-1], hist[-1]), size=11.5)


# value tags on the right axis
def tag(v, yref, col, fmt="%.2f", bold=False, shift=0):
    t = fmt % v
    ann.append(dict(x=1, xref="paper", xanchor="left", xshift=4, y=v, yref=yref, yanchor="middle",
                    yshift=shift, text="<b>%s</b>" % t if bold else t, showarrow=False,
                    font=dict(size=9, color="#000", family=FONT), bgcolor="white",
                    bordercolor=col, borderwidth=1, borderpad=0))


tag(rsi[-1], "y", "#000")
tag(bbu[-1], "y2", "#f57c14")
tag(C[-1], "y2", "#000", bold=True)
tag(ma10[-1], "y2", "#ff00ff")
tag(ma50[-1], "y2", "#10107a")
tag(span_a[-1], "y2", "#2f6a12")
tag(span_b[-1], "y2", "#d8143a")
tag(bbl[-1], "y2", "#f57c14")
tag(ma200[-1], "y2", "#d8143a")
tag(sig[-1], "y3", "#ff2020", "%.3f", shift=6)
tag(macd[-1], "y3", "#000", "%.3f", shift=-2)
tag(hist[-1], "y3", "#3a6fb4", "%.3f")

# ---------------- axes & layout ----------------
tickvals = xs(tick_dates)
ticktext = [t if t.isdigit() else "<b>%s</b>" % t for t in tick_text]
hidden_by_tags = (30250, 29500, 29250, 29000, 28500, 27000)
price_ticks = [v for v in range(23000, 30751, 250) if v not in hidden_by_tags]
macd_ticks = [v for v in range(-400, 1001, 100) if v not in (0, 100)]
border = "#bdbdbd"
xcommon = dict(range=XR, showgrid=False, zeroline=False, showline=True, mirror=True, linecolor=border,
               tickvals=tickvals, ticktext=ticktext, ticks="", tickfont=dict(size=10, color="#333"),
               rangeslider=dict(visible=False), automargin=False)
ycommon = dict(side="right", showgrid=False, zeroline=False, showline=True, mirror=True,
               linecolor=border, ticks="outside", ticklen=3, tickcolor="#999",
               tickfont=dict(size=10.5, color="#333"), tickformat="d", automargin=False)

fig.update_layout(
    width=1565, height=1157, margin=dict(l=17, r=50, t=29, b=17, autoexpand=False),
    paper_bgcolor="white", plot_bgcolor="white", showlegend=False,
    font=dict(family=FONT), hovermode=False,
    xaxis=dict(xcommon, domain=[0, 1], anchor="y", showticklabels=False),
    xaxis2=dict(xcommon, domain=[0, 1], anchor="y2", matches="x"),
    xaxis3=dict(xcommon, domain=[0, 1], anchor="y3", matches="x"),
    yaxis=dict(ycommon, domain=[Y2DOM[1], 1.0], range=[-3.3, 102.8], tickvals=[10, 30, 50, 70, 90]),
    yaxis2=dict(ycommon, domain=Y2DOM, range=Y2R, tickvals=price_ticks),
    yaxis3=dict(ycommon, domain=[0, 0.2034], range=[-493.5, 1088.5], tickvals=macd_ticks),
    shapes=shapes, annotations=ann,
)

fig.write_html("out.html", config={"displayModeBar": False},
               post_script="document.body.style.margin='0px';")
